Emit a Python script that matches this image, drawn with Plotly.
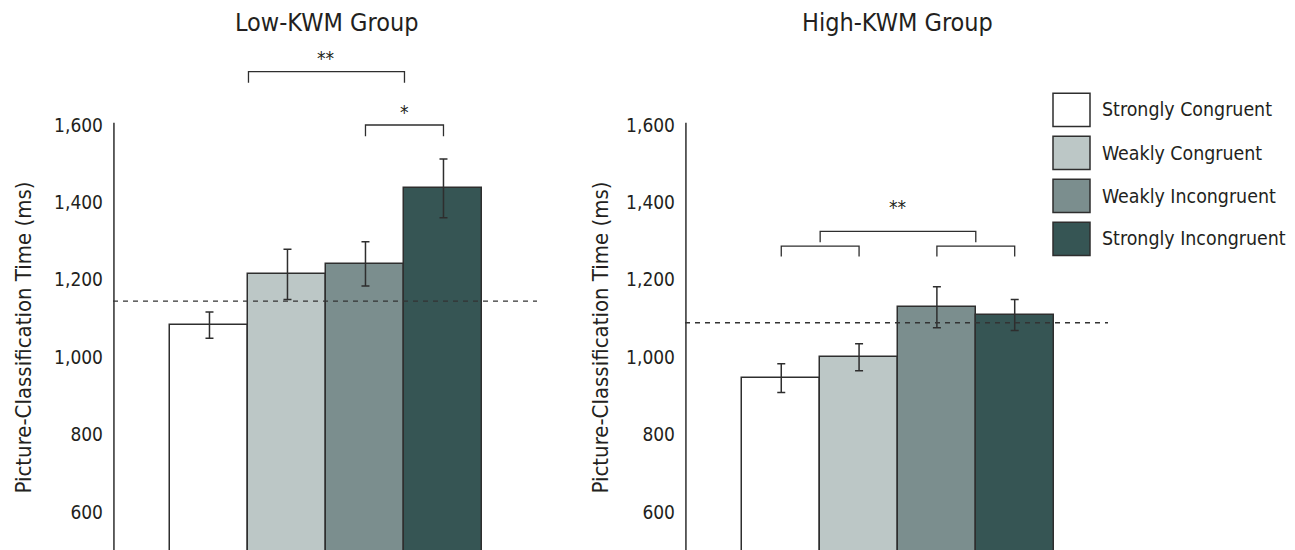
import plotly.graph_objects as go

# ---------------- data ----------------
groups = ["Low-KWM Group", "High-KWM Group"]
conditions = ["Strongly Congruent", "Weakly Congruent", "Weakly Incongruent", "Strongly Incongruent"]
low_means = [1083, 1214, 1241, 1436]
low_se = [34, 65, 57, 76]
high_means = [946, 1000, 1129, 1109]
high_se = [37, 35, 53, 40]
baselines = [1145, 1089]
tick_vals = [600, 800, 1000, 1200, 1400, 1600]
tick_text = ["600", "800", "1,000", "1,200", "1,400", "1,600"]
y_title = "Picture-Classification Time (ms)"

# significance brackets: (x0, x1, y_top, y_leg_bottom)
low_brackets = [(0.5, 2.5, 1738, 1709), (2, 3, 1600, 1571)]
high_brackets = [(0, 1, 1287, 1260), (2, 3, 1287, 1260), (0.5, 2.5, 1325, 1297)]
low_labels = [(1.5, 1772, "**"), (2.5, 1633, "*")]
high_labels = [(1.5, 1388, "**")]

# ---------------- style / layout ----------------
FONT = "DejaVu Sans Condensed, DejaVu Sans, sans-serif"
TXT = "#231f20"
EDGE = "#2e2e2e"
bar_colors = ["#ffffff", "#bcc7c6", "#7b8e8e", "#365554"]
W, H = 1295, 550
OFF = 8  # page body margin offset compensation (px)
XR = [-1.237, 4.199]
YR = [481.1, 1902.3]


def px_x(p):
    return (p - OFF) / W


def px_y(p):
    return 1 - (p - OFF) / H


domains = [[px_x(113), px_x(537)], [px_x(685), px_x(1108)]]

fig = go.Figure()
xs = list(range(len(conditions)))
for k, (means, se) in enumerate([(low_means, low_se), (high_means, high_se)]):
    xa = "x" if k == 0 else "x2"
    ya = "y" if k == 0 else "y2"
    fig.add_trace(go.Bar(
        x=xs, y=means, width=1,
        marker=dict(color=bar_colors, line=dict(color=EDGE, width=1.5)),
        error_y=dict(type="data", array=se, visible=True, color=EDGE, thickness=1.5, width=4),
        xaxis=xa, yaxis=ya, showlegend=False,
    ))

shapes = []
annotations = []
for k in range(2):
    xr = "x" if k == 0 else "x2"
    yr = "y" if k == 0 else "y2"
    # y-axis line (only up to 1600)
    shapes.append(dict(type="line", xref=xr, yref=yr, x0=XR[0] + 0.012, x1=XR[0] + 0.012,
                       y0=YR[0], y1=tick_vals[-1] + 6, line=dict(color=EDGE, width=1.5)))
    # dashed baseline
    shapes.append(dict(type="line", xref=xr, yref=yr, x0=XR[0], x1=XR[1],
                       y0=baselines[k], y1=baselines[k],
                       line=dict(color="#333333", width=1.3, dash="5px,5px")))
    brs = low_brackets if k == 0 else high_brackets
    for (x0, x1, yt, yb) in brs:
        shapes.append(dict(type="path", xref=xr, yref=yr,
                           path=f"M {x0} {yb} L {x0} {yt} L {x1} {yt} L {x1} {yb}",
                           line=dict(color=EDGE, width=1.3)))
    labs = low_labels if k == 0 else high_labels
    for (lx, ly, t) in labs:
        annotations.append(dict(xref=xr, yref=yr, x=lx, y=ly, text=t, showarrow=False,
                                font=dict(family=FONT, size=19, color=TXT)))
    # group title
    annotations.append(dict(xref=xr, yref="paper", x=1.5, y=px_y(22.7), text=groups[k],
                            showarrow=False, yanchor="middle",
                            font=dict(family=FONT, size=25, color=TXT)))
    # axis title
    ax_x = 23 if k == 0 else 600
    annotations.append(dict(xref="paper", yref="paper", x=px_x(ax_x), y=px_y(337.5), text=y_title,
                            textangle=-90, showarrow=False, xanchor="center", yanchor="middle",
                            font=dict(family=FONT, size=22, color=TXT)))

# legend (drawn manually to match large swatches)
for i, (name, col) in enumerate(zip(conditions, bar_colors)):
    top = 93.3 + 43.0 * i
    shapes.append(dict(type="rect", xref="paper", yref="paper",
                       x0=px_x(1053), x1=px_x(1090), y0=px_y(top + 33.3), y1=px_y(top),
                       fillcolor=col, line=dict(color=EDGE, width=1.5)))
    annotations.append(dict(xref="paper", yref="paper", x=px_x(1100), y=px_y(top + 16.7),
                            text=name, showarrow=False, xanchor="left", yanchor="middle",
                            font=dict(family=FONT, size=19.4, color=TXT)))

axis_common = dict(range=XR, showgrid=False, zeroline=False, showline=False, automargin=False,
                   showticklabels=False, ticks="", fixedrange=True)
yaxis_common = dict(range=YR, showgrid=False, zeroline=False, showline=False, automargin=False,
                    tickvals=tick_vals, ticktext=tick_text, ticks="",
                    ticklabelstandoff=9,
                    tickfont=dict(family=FONT, size=19, color=TXT), domain=[0, 1])

fig.update_layout(
    width=W, height=H,
    margin=dict(l=0, r=0, t=0, b=0, autoexpand=False),
    paper_bgcolor="white", plot_bgcolor="white",
    barmode="overlay", bargap=0,
    xaxis=dict(domain=domains[0], anchor="y", **axis_common),
    xaxis2=dict(domain=domains[1], anchor="y2", **axis_common),
    yaxis=dict(anchor="x", **yaxis_common),
    yaxis2=dict(anchor="x2", **yaxis_common),
    shapes=shapes, annotations=annotations,
    showlegend=False,
)

fig.write_html("out.html")
